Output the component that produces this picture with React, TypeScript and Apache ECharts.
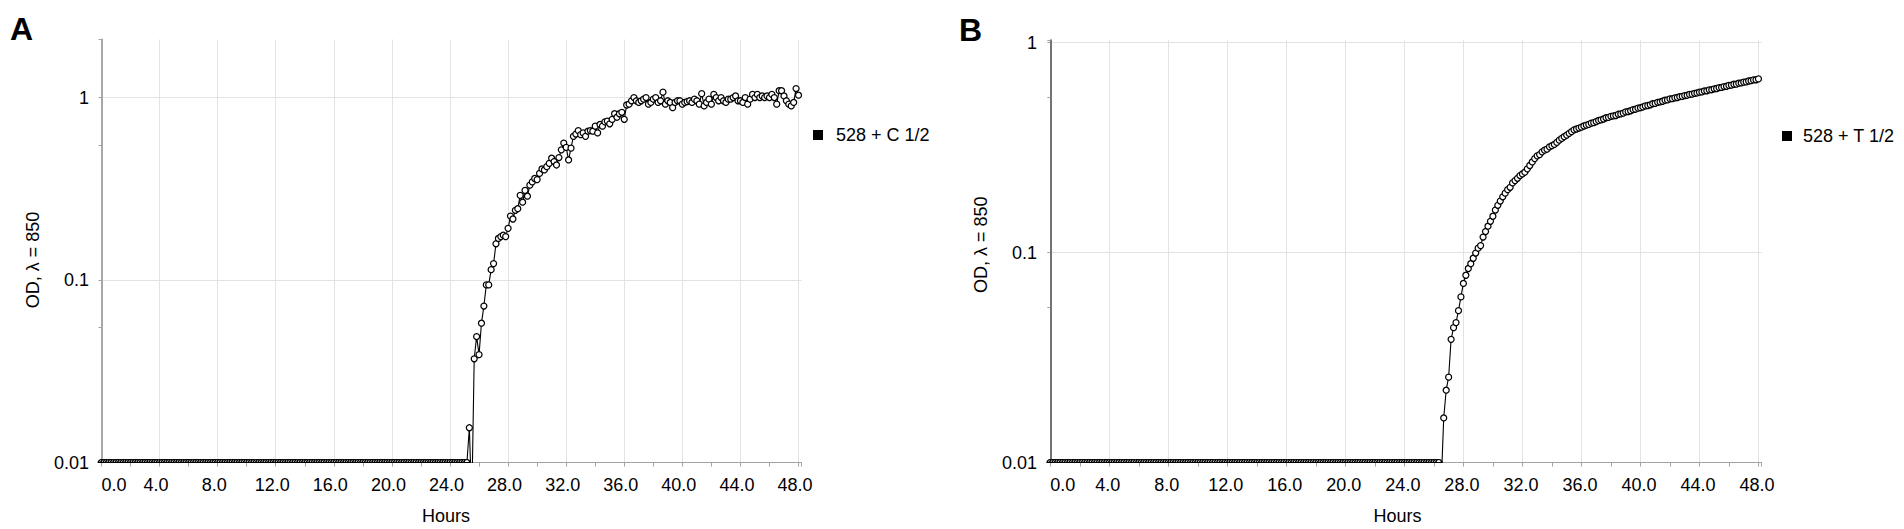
import React, { useEffect, useRef } from "react";
import * as echarts from "echarts";

// Readings were taken every 10 minutes (index i -> i/6 hours)
const SAMPLE_STEP_H = 1 / 6;

const SERIES_A_NAME = "528 + C 1/2";
const SERIES_B_NAME = "528 + T 1/2";
const PANEL_LABELS = ["A", "B"];
const X_AXIS_TITLE = "Hours";
const Y_AXIS_TITLE = "OD, \u03bb = 850";

const OD_MIN = 0.01;
const HOURS_MIN = 0;
const HOURS_STEP = 4;

// Panel A: 528 + C 1/2
const OD_A = [
  0.01, 0.01, 0.01, 0.01, 0.01, 0.01, 0.01, 0.01, 0.01, 0.01, 0.01, 0.01, 0.01, 0.01, 0.01, 0.01, 0.01, 0.01, 0.01,
  0.01, 0.01, 0.01, 0.01, 0.01, 0.01, 0.01, 0.01, 0.01, 0.01, 0.01, 0.01, 0.01, 0.01, 0.01, 0.01, 0.01, 0.01, 0.01,
  0.01, 0.01, 0.01, 0.01, 0.01, 0.01, 0.01, 0.01, 0.01, 0.01, 0.01, 0.01, 0.01, 0.01, 0.01, 0.01, 0.01, 0.01, 0.01,
  0.01, 0.01, 0.01, 0.01, 0.01, 0.01, 0.01, 0.01, 0.01, 0.01, 0.01, 0.01, 0.01, 0.01, 0.01, 0.01, 0.01, 0.01, 0.01,
  0.01, 0.01, 0.01, 0.01, 0.01, 0.01, 0.01, 0.01, 0.01, 0.01, 0.01, 0.01, 0.01, 0.01, 0.01, 0.01, 0.01, 0.01, 0.01,
  0.01, 0.01, 0.01, 0.01, 0.01, 0.01, 0.01, 0.01, 0.01, 0.01, 0.01, 0.01, 0.01, 0.01, 0.01, 0.01, 0.01, 0.01, 0.01,
  0.01, 0.01, 0.01, 0.01, 0.01, 0.01, 0.01, 0.01, 0.01, 0.01, 0.01, 0.01, 0.01, 0.01, 0.01, 0.01, 0.01, 0.01, 0.01,
  0.01, 0.01, 0.01, 0.01, 0.01, 0.01, 0.01, 0.01, 0.01, 0.01, 0.01, 0.01, 0.01, 0.01, 0.01, 0.01, 0.01, 0.01, 0.01,
  0.0155, 0.006,
  0.037, 0.049, 0.039, 0.058, 0.072, 0.094, 0.094, 0.114, 0.123, 0.158,
  0.169, 0.173, 0.176, 0.173, 0.192, 0.224, 0.216, 0.241, 0.246, 0.291,
  0.267, 0.31, 0.288, 0.331, 0.345, 0.36, 0.355, 0.384, 0.406, 0.401,
  0.418, 0.436, 0.465, 0.446, 0.427, 0.469, 0.517, 0.563, 0.533, 0.455,
  0.528, 0.613, 0.631, 0.659, 0.626, 0.64, 0.613, 0.654, 0.659, 0.654,
  0.697, 0.64, 0.712, 0.697, 0.736, 0.743, 0.718, 0.759, 0.815, 0.78,
  0.815, 0.83, 0.76, 0.91, 0.92, 0.96, 1.0, 0.96,
  0.94, 0.96, 0.98, 1.0, 0.92, 0.94, 0.98, 1.0, 0.94, 0.96,
  1.07, 0.92, 0.96, 0.94, 0.88, 0.94, 0.96, 0.96, 0.92, 0.94,
  0.95, 0.96, 0.94, 0.98, 0.96, 0.92, 1.05, 0.9, 0.94, 0.98,
  0.92, 1.04, 1.0, 0.96, 1.0, 0.96, 0.94, 0.98, 0.98, 1.0,
  1.02, 0.96, 0.96, 0.94, 1.0, 0.92, 0.98, 1.04, 1.0, 1.04,
  1.0, 1.02, 1.0, 1.02, 1.0, 1.04, 1.0, 0.92, 1.09, 1.09,
  1.02, 0.96, 0.92, 0.9, 0.94, 1.12, 1.03,
];

// Panel B: 528 + T 1/2
const OD_B = [
  0.01, 0.01, 0.01, 0.01, 0.01, 0.01, 0.01, 0.01, 0.01, 0.01, 0.01, 0.01, 0.01, 0.01, 0.01, 0.01, 0.01, 0.01, 0.01,
  0.01, 0.01, 0.01, 0.01, 0.01, 0.01, 0.01, 0.01, 0.01, 0.01, 0.01, 0.01, 0.01, 0.01, 0.01, 0.01, 0.01, 0.01, 0.01,
  0.01, 0.01, 0.01, 0.01, 0.01, 0.01, 0.01, 0.01, 0.01, 0.01, 0.01, 0.01, 0.01, 0.01, 0.01, 0.01, 0.01, 0.01, 0.01,
  0.01, 0.01, 0.01, 0.01, 0.01, 0.01, 0.01, 0.01, 0.01, 0.01, 0.01, 0.01, 0.01, 0.01, 0.01, 0.01, 0.01, 0.01, 0.01,
  0.01, 0.01, 0.01, 0.01, 0.01, 0.01, 0.01, 0.01, 0.01, 0.01, 0.01, 0.01, 0.01, 0.01, 0.01, 0.01, 0.01, 0.01, 0.01,
  0.01, 0.01, 0.01, 0.01, 0.01, 0.01, 0.01, 0.01, 0.01, 0.01, 0.01, 0.01, 0.01, 0.01, 0.01, 0.01, 0.01, 0.01, 0.01,
  0.01, 0.01, 0.01, 0.01, 0.01, 0.01, 0.01, 0.01, 0.01, 0.01, 0.01, 0.01, 0.01, 0.01, 0.01, 0.01, 0.01, 0.01, 0.01,
  0.01, 0.01, 0.01, 0.01, 0.01, 0.01, 0.01, 0.01, 0.01, 0.01, 0.01, 0.01, 0.01, 0.01, 0.01, 0.01, 0.01, 0.01, 0.01,
  0.01, 0.01, 0.01, 0.01, 0.01, 0.01, 0.01,
  0.008,
  0.0163, 0.0221, 0.0255, 0.0386, 0.0439, 0.0464, 0.0529,
  0.0615, 0.0713, 0.078, 0.084, 0.0885, 0.094, 0.0995, 0.105, 0.108, 0.1186,
  0.126, 0.1336, 0.141, 0.149, 0.1595, 0.168, 0.176, 0.1844, 0.192, 0.1995,
  0.2047, 0.2148, 0.2203, 0.226, 0.2328, 0.237, 0.2415, 0.2506, 0.26, 0.2702,
  0.2804, 0.289, 0.293, 0.302, 0.3077, 0.311, 0.319, 0.323, 0.3275, 0.335,
  0.3434, 0.35, 0.3565, 0.363, 0.37, 0.377, 0.3845, 0.388, 0.392, 0.396,
  0.401, 0.405, 0.408, 0.414, 0.416,
  0.421, 0.426, 0.429, 0.433, 0.439, 0.441,
  0.446, 0.448, 0.45, 0.456, 0.458, 0.462,
  0.468, 0.47, 0.474, 0.48, 0.482, 0.488,
  0.49, 0.494, 0.5, 0.502, 0.506, 0.512,
  0.514, 0.52, 0.522, 0.526, 0.532, 0.534,
  0.54, 0.541, 0.546, 0.548, 0.553, 0.555,
  0.56, 0.562, 0.567, 0.569, 0.574, 0.576,
  0.581, 0.583, 0.589, 0.59, 0.596, 0.597,
  0.603, 0.605, 0.611, 0.612, 0.618, 0.62,
  0.626, 0.628, 0.634, 0.635, 0.641, 0.643,
  0.649, 0.651, 0.657, 0.659, 0.665, 0.666,
  0.672,
];

const FONT = "'Liberation Sans', Arial, Helvetica, sans-serif";
const HALF_CIRCLE = "path://M0,10A10,10,0,0,1,20,10Z";

function toPoints(vals: number[]) {
  return vals.map((v, i) => {
    const t = Math.round(i * SAMPLE_STEP_H * 10000) / 10000;
    if (v === OD_MIN) {
      // points sitting on the bottom edge are clipped to their upper half
      return { value: [t, v], symbol: HALF_CIRCLE, symbolSize: [6, 3], symbolOffset: [0, -1.5] };
    }
    return [t, v];
  });
}

function xAxisOpt(gridIndex: number, max: number, labelPad: number, namePad: number) {
  return {
    gridIndex,
    type: "value",
    min: HOURS_MIN,
    max,
    interval: HOURS_STEP,
    axisLine: { show: true, onZero: false, lineStyle: { color: "#a3a3a3", width: 1 } },
    axisTick: { show: true, length: 4, lineStyle: { color: "#a3a3a3" } },
    minorTick: { show: true, splitNumber: 2, length: 4, lineStyle: { color: "#a3a3a3" } },
    splitLine: { show: true, showMinLine: false, showMaxLine: false, lineStyle: { color: "#e3e3e3", width: 1 } },
    axisLabel: {
      formatter: (v: number) => v.toFixed(1),
      fontSize: 18,
      color: "#000",
      fontFamily: FONT,
      margin: 13,
      showMaxLabel: false,
      alignMinLabel: "left",
      padding: [0, labelPad, 0, 0],
    },
    name: X_AXIS_TITLE,
    nameLocation: "middle",
    nameGap: 44,
    nameTextStyle: { fontSize: 18, color: "#000", fontFamily: FONT, padding: [0, namePad, 0, 0] },
  };
}

function yAxisOpt(gridIndex: number, max: number, offset: number, lineColor: string, lineWidth: number, namePad: number[]) {
  return {
    gridIndex,
    type: "log",
    logBase: 10,
    min: OD_MIN,
    max,
    offset,
    axisLine: { show: true, lineStyle: { color: lineColor, width: lineWidth } },
    axisTick: { show: true, length: 3, lineStyle: { color: "#a3a3a3" } },
    minorTick: { show: true, splitNumber: 2, length: 3, lineStyle: { color: "#a3a3a3" } },
    splitLine: { show: true, showMinLine: false, showMaxLine: false, lineStyle: { color: "#e3e3e3", width: 1 } },
    axisLabel: {
      fontSize: 18,
      color: "#000",
      fontFamily: FONT,
      margin: 11,
      showMaxLabel: false,
      padding: [0, 0, 14, 0],
    },
    name: Y_AXIS_TITLE,
    nameLocation: "middle",
    nameRotate: 90,
    nameGap: 58,
    nameTextStyle: { fontSize: 18, color: "#000", fontFamily: FONT, padding: namePad },
  };
}

function seriesOpt(name: string, idx: number, vals: number[]) {
  return {
    name,
    type: "line",
    xAxisIndex: idx,
    yAxisIndex: idx,
    data: toPoints(vals),
    symbol: "circle",
    symbolSize: 6,
    showSymbol: true,
    clip: true,
    lineStyle: { color: "#000", width: 1.1 },
    itemStyle: { color: "#fff", borderColor: "#000", borderWidth: 1.25 },
    emphasis: { disabled: true },
  };
}

function legendOpt(name: string, left: number, top: number, gap: number) {
  return {
    data: [{ name, icon: "rect" }],
    left,
    top,
    padding: 0,
    itemWidth: 10,
    itemHeight: 10,
    selectedMode: false,
    itemStyle: { color: "#000", borderWidth: 0 },
    textStyle: { fontSize: 18, color: "#000", fontFamily: FONT, padding: [0, 0, 0, gap] },
  };
}

export default function App() {
  const ref = useRef<HTMLDivElement>(null);

  useEffect(() => {
    if (!ref.current) return;
    const chart = echarts.init(ref.current, undefined, { renderer: "svg" });
    chart.setOption({
      animation: false,
      backgroundColor: "#fff",
      title: [
        { text: PANEL_LABELS[0], left: 10, top: 12.5, padding: 0, textStyle: { fontSize: 32, fontWeight: "bold", color: "#000", fontFamily: FONT } },
        { text: PANEL_LABELS[1], left: 959, top: 13.5, padding: 0, textStyle: { fontSize: 32, fontWeight: "bold", color: "#000", fontFamily: FONT } },
      ],
      legend: [legendOpt(SERIES_A_NAME, 813, 126, 8), legendOpt(SERIES_B_NAME, 1782, 127, 6)],
      grid: [
        { left: 101.5, top: 39.5, width: 699.9, height: 423, outerBoundsMode: "none", containLabel: false },
        { left: 1050.3, top: 40, width: 711.4, height: 422.5, outerBoundsMode: "none", containLabel: false },
      ],
      xAxis: [xAxisOpt(0, 48.2, 7, 11), xAxisOpt(1, 48.22, 3, 17)],
      yAxis: [
        yAxisOpt(0, 2.08, 1.5, "#a8a8a8", 2, [0, 18, 0, 0]),
        yAxisOpt(1, 1.03, 2.3, "#444444", 1.5, [0, 0, 0, 13]),
      ],
      series: [seriesOpt(SERIES_A_NAME, 0, OD_A), seriesOpt(SERIES_B_NAME, 1, OD_B)],
    });
    return () => chart.dispose();
  }, []);

  return (
    <div
      ref={ref}
      style={{ position: "absolute", left: 0, top: 0, width: 1904, height: 529, background: "#fff" }}
    />
  );
}
